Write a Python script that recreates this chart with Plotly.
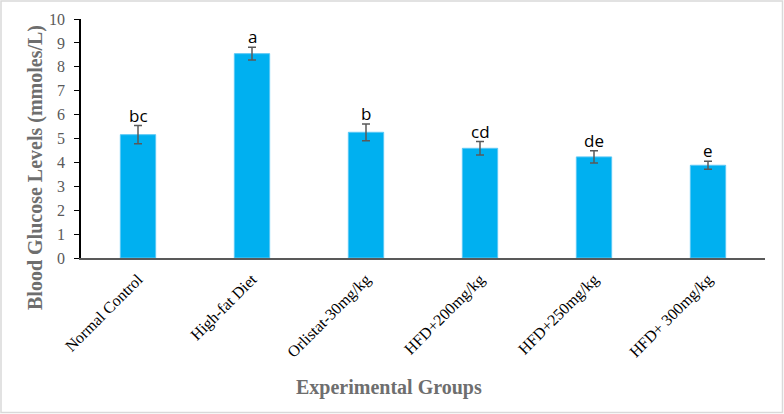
import plotly.graph_objects as go

groups = ["Normal Control", "High-fat Diet", "Orlistat-30mg/kg", "HFD+200mg/kg", "HFD+250mg/kg", "HFD+ 300mg/kg"]
glucose = [5.16, 8.55, 5.26, 4.59, 4.23, 3.88]
errors = [0.38, 0.27, 0.35, 0.28, 0.26, 0.17]
letters = ["bc", "a", "b", "cd", "de", "e"]
y_ticks = list(range(0, 11))

W, H = 784, 414
ML, MR, MT, MB = 81, 19, 19, 156
pw, ph = W - ML - MR, H - MT - MB

fig = go.Figure()
fig.add_trace(go.Bar(
    x=groups, y=glucose, width=0.31,
    marker=dict(color="#00B0F0", line=dict(color="#5BC8F5", width=1)),
    error_y=dict(type="data", array=errors, visible=True, color="#595959", thickness=1.5, width=4),
))

for g, v, e, l in zip(groups, glucose, errors, letters):
    fig.add_annotation(x=g, y=v + e, text=l, showarrow=False, yanchor="bottom", yshift=-3,
                       font=dict(family="Open Sans, Liberation Sans, sans-serif", size=17, color="#000000"))

# axis titles placed as in the reference
fig.add_annotation(xref="paper", yref="paper", x=(389 - ML) / pw, y=(H - MB - 387) / ph,
                   text="<b>Experimental Groups</b>", showarrow=False, xanchor="center", yanchor="middle",
                   font=dict(family="Liberation Serif", size=20, color="#6E6E6E"))
fig.add_annotation(xref="paper", yref="paper", x=(35 - ML) / pw, y=(H - MB - 168) / ph,
                   text="<b>Blood Glucose Levels (mmoles/L)</b>", showarrow=False, textangle=-90,
                   xanchor="center", yanchor="middle",
                   font=dict(family="Liberation Serif", size=20, color="#6E6E6E"))

fig.add_shape(type="rect", xref="paper", yref="paper",
              x0=(1 - ML) / pw, x1=(W - 1.5 - ML) / pw,
              y0=(H - MB - (H - 1.5)) / ph, y1=(H - MB - 1) / ph,
              line=dict(color="#D9D9D9", width=1.5), layer="below")

fig.update_layout(
    width=W, height=H, margin=dict(l=ML, r=MR, t=MT, b=MB, autoexpand=False),
    plot_bgcolor="white", paper_bgcolor="white", showlegend=False,
    xaxis=dict(
        automargin=False,
        showline=True, linecolor="#595959", linewidth=1.5, ticks="", tickangle=-45,
        ticklabelstandoff=4,
        tickfont=dict(family="Liberation Serif", size=16, color="#000000"),
    ),
    yaxis=dict(
        automargin=False,
        range=[0, 10], tickvals=y_ticks, showline=True, linecolor="#000000", linewidth=1.5,
        ticks="outside", ticklen=5, tickcolor="#000000", showgrid=False, zeroline=False,
        ticklabelstandoff=6,
        tickfont=dict(family="Liberation Serif", size=16, color="#595959"),
    ),
)

fig.write_html("out.html", config={"displayModeBar": False},
               post_script="document.body.style.margin='0';document.body.style.padding='0';")
